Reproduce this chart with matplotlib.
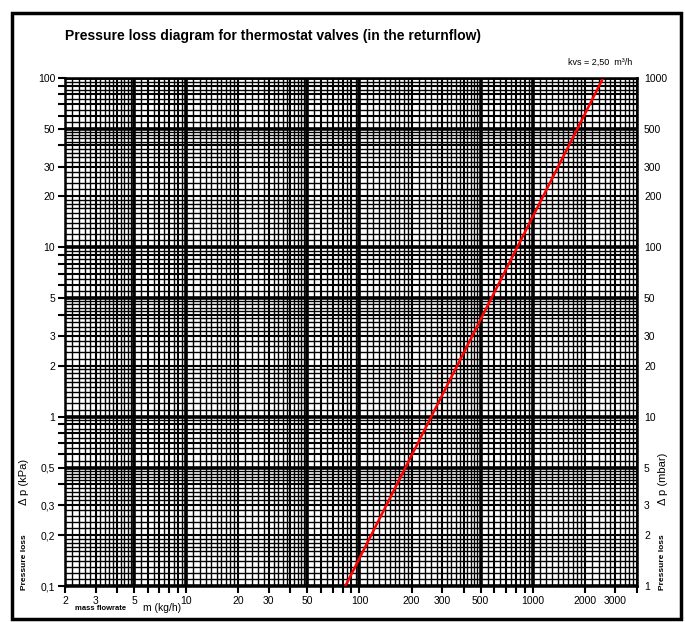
import matplotlib

matplotlib.use("Agg", force=True)
import matplotlib.pyplot as plt
import numpy as np
from matplotlib.patches import Rectangle

# red kvs = 2.50 curve
FLOW_KGH = [83, 2550]
DP_KPA = [0.1, 100]

X_TICKS = [2, 3, 5, 10, 20, 30, 50, 100, 200, 300, 500, 1000, 2000, 3000]
X_LABELS = ["2", "3", "5", "10", "20", "30", "50", "100", "200", "300", "500", "1000", "2000", "3000"]
Y_TICKS = [0.1, 0.2, 0.3, 0.5, 1, 2, 3, 5, 10, 20, 30, 50, 100]
Y_LABELS = ["0,1", "0,2", "0,3", "0,5", "1", "2", "3", "5", "10", "20", "30", "50", "100"]
Y2_TICKS = [1, 2, 3, 5, 10, 20, 30, 50, 100, 200, 300, 500, 1000]
Y2_LABELS = ["1", "2", "3", "5", "10", "20", "30", "50", "100", "200", "300", "500", "1000"]

plt.rcParams["font.family"] = ["Liberation Sans", "DejaVu Sans"]


def grid_positions(lo, hi):
    mant = np.concatenate([np.arange(1.0, 2.0, 0.1), np.arange(2.0, 5.0, 0.2), np.arange(5.0, 10.0, 0.5)])
    out = []
    for e in range(int(np.floor(np.log10(lo))), int(np.ceil(np.log10(hi))) + 1):
        for m in mant:
            v = round(m, 2) * 10.0**e
            if lo * 0.999 <= v <= hi * 1.001:
                out.append((v, round(m, 2)))
    return out


def line_width(m):
    if m in (1.0, 5.0):
        return 2.6
    if float(m).is_integer():
        return 1.5
    return 1.0


fig = plt.figure(figsize=(6.85, 6.22), dpi=100)
fig.patches.append(Rectangle((12 / 685, 3 / 622), 669 / 685, 606 / 622, transform=fig.transFigure,
                             fill=False, ec="black", lw=2.5))

ax = fig.add_axes([65 / 685, 1 - 586 / 622, 572 / 685, 508 / 622])
ax.set_xscale("log")
ax.set_yscale("log")
ax.set_xlim(2, 4000)
ax.set_ylim(0.1, 100)

for v, m in grid_positions(2, 4000):
    ax.axvline(v, color="black", lw=line_width(m), zorder=1)
for v, m in grid_positions(0.1, 100):
    ax.axhline(v, color="black", lw=line_width(m), zorder=1)

ax.plot(FLOW_KGH, DP_KPA, color="red", lw=1.8, zorder=3)

ax.set_xticks(X_TICKS, X_LABELS)
ax.set_yticks(Y_TICKS, Y_LABELS)
minor_x = [v for v, m in grid_positions(2, 4000) if float(m).is_integer()]
minor_y = [v for v, m in grid_positions(0.1, 100) if float(m).is_integer()]
ax.set_xticks(minor_x, minor=True)
ax.set_yticks(minor_y, minor=True)
ax.xaxis.set_minor_formatter(plt.NullFormatter())
ax.yaxis.set_minor_formatter(plt.NullFormatter())
ax.tick_params(which="both", direction="out", length=5, width=1.5, labelsize=7.5, pad=2)
for s in ax.spines.values():
    s.set_linewidth(1.8)

ax2 = ax.twinx()
ax2.set_yscale("log")
ax2.set_ylim(1, 1000)
ax2.set_yticks(Y2_TICKS, Y2_LABELS)
ax2.set_yticks([], minor=True)
ax2.tick_params(which="both", length=0, labelsize=7.5, pad=5)

fig.text(65 / 685, 1 - 36 / 622, "Pressure loss diagram for thermostat valves (in the returnflow)",
         fontsize=10, fontweight="bold", va="center", ha="left")
fig.text(632 / 685, 1 - 62 / 622, "kvs = 2,50  m³/h", fontsize=6.5, va="center", ha="right")

fig.text(75 / 685, 1 - 609 / 622, "mass flowrate", fontsize=5.5, fontweight="bold", va="center", ha="left")
fig.text(143 / 685, 1 - 608 / 622, "m (kg/h)", fontsize=7.5, va="center", ha="left")

fig.text(24 / 685, 1 - 590 / 622, "Pressure loss", fontsize=6, fontweight="bold", rotation=90,
         va="bottom", ha="center")
fig.text(24 / 685, 1 - 505 / 622, "Δ p (kPa)", fontsize=8, rotation=90, va="bottom", ha="center")
fig.text(663 / 685, 1 - 590 / 622, "Pressure loss", fontsize=6, fontweight="bold", rotation=90,
         va="bottom", ha="center")
fig.text(663 / 685, 1 - 505 / 622, "Δ p (mbar)", fontsize=8, rotation=90, va="bottom", ha="center")

fig.savefig("out.png", dpi=100)
plt.close(fig)
